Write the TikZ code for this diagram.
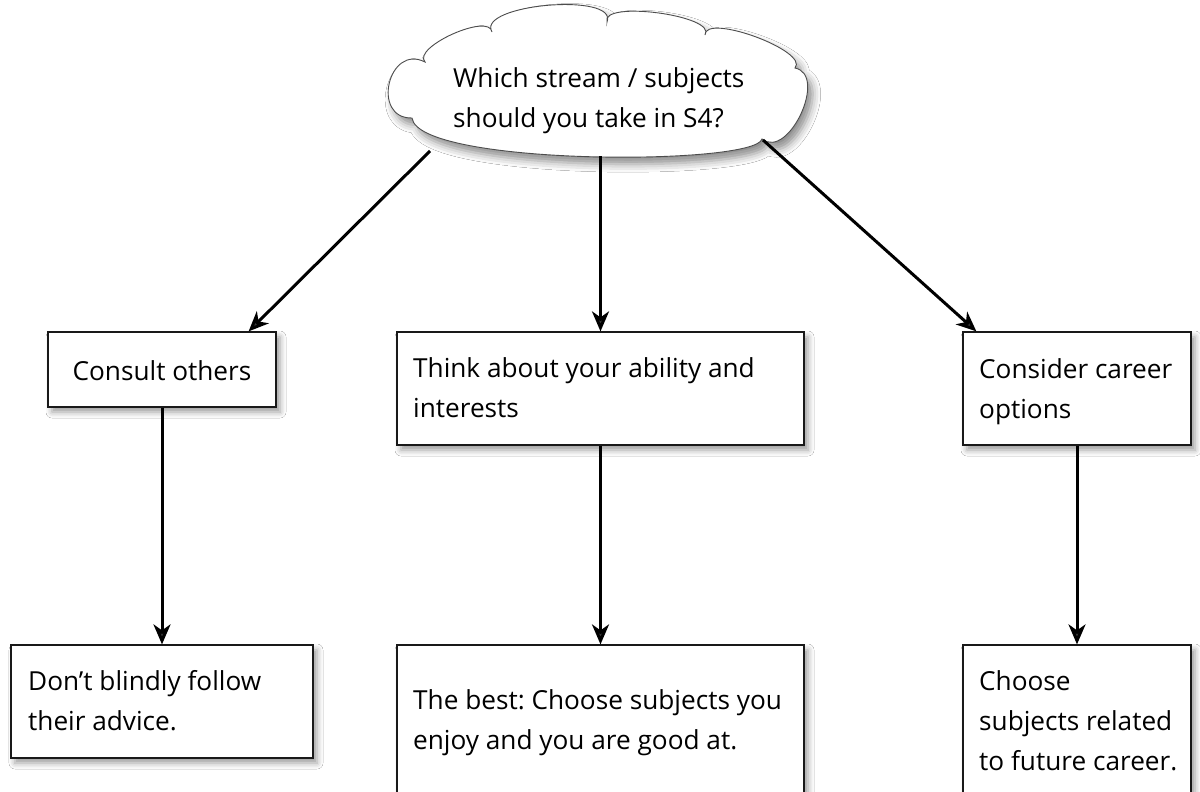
\documentclass[tikz,border=0pt]{standalone}
\usepackage{fontspec}
\setmainfont{Open Sans}
\frenchspacing
\usetikzlibrary{arrows.meta,shadows.blur,calc}
\begin{document}
\begin{tikzpicture}[x=1pt,y=-1pt,
  boxnode/.style={draw=black!90,line width=1.2pt,fill=white,rectangle,inner sep=0pt,
    blur shadow={shadow xshift=4pt,shadow yshift=-5pt,shadow blur radius=6pt,shadow opacity=40}},
  txt/.style={anchor=base west,inner sep=0pt,font=\fontsize{26.2}{40}\selectfont},
  arr/.style={line width=3pt,-{Stealth[length=20pt,width=17pt,inset=6pt]}}]
\clip (0,0) rectangle (1200,792);
\fill[white] (0,0) rectangle (1200,792);
% cloud
\path[draw=black!70, line width=0.9pt, fill=white,
  blur shadow={shadow xshift=5pt,shadow yshift=-7pt,shadow blur radius=8pt,shadow opacity=45}]
  (412,118) .. controls (370.7,118.7) and (388.3,43.3) .. (425,62)
  .. controls (411.7,47.2) and (489.7,12.2) .. (492,32)
  .. controls (475.6,4.3) and (618.4,-8.1) .. (607,22)
  .. controls (599.9,-0.1) and (717.7,15.5) .. (705,35)
  .. controls (704.7,12.5) and (809.7,51.1) .. (795,68)
  .. controls (828.3,74.6) and (788.5,160.2) .. (762,139)
  .. controls (755,166) and (418,166) .. (412,118) -- cycle;
\node[txt] (qt) at (453,88) {\begin{tabular}[t]{@{}l@{}}Which stream / subjects\\should you take in S4?\end{tabular}};
% boxes
\node[boxnode, minimum width=228pt, minimum height=75pt] (b1) at (162,369.5) {};
\node[boxnode, minimum width=407pt, minimum height=113pt] (b2) at (600.5,388.5) {};
\node[boxnode, minimum width=228pt, minimum height=113pt] (b3) at (1077,388.5) {};
\node[boxnode, minimum width=302pt, minimum height=113pt] (b4) at (162,701.5) {};
\node[boxnode, minimum width=407pt, minimum height=170pt] (b5) at (600.5,730) {};
\node[boxnode, minimum width=228pt, minimum height=170pt] (b6) at (1077,730) {};
% texts
\node[txt, anchor=base] (t1) at (162,380) {Consult others};
\node[txt] (t2) at (413,377) {\begin{tabular}[t]{@{}l@{}}Think about your ability and\\interests\end{tabular}};
\node[txt] (t3) at (979,378) {\begin{tabular}[t]{@{}l@{}}Consider career\\options\end{tabular}};
\node[txt] (t4) at (28,690) {\begin{tabular}[t]{@{}l@{}}Don’t blindly follow\\their advice.\end{tabular}};
\node[txt] (t5) at (413,709) {\begin{tabular}[t]{@{}l@{}}The best: Choose subjects you\\enjoy and you are good at.\end{tabular}};
\node[txt] (t6) at (979,690) {\begin{tabular}[t]{@{}l@{}}Choose\\subjects related\\to future career.\end{tabular}};
% connectors
\coordinate (s1) at (430,151);
\coordinate (s2) at (600.5,156);
\coordinate (s3) at (763,140);
\draw[arr] (s1) -- ($(b1.north east)+(-28,0)$);
\draw[arr] (s2) -- (b2.north);
\draw[arr] (s3) -- ($(b3.north west)+(14,0)$);
\draw[arr] (b1.south) -- (b4.north);
\draw[arr] (b2.south) -- (b5.north);
\draw[arr] (b3.south) -- (b6.north);
\end{tikzpicture}
\end{document}
